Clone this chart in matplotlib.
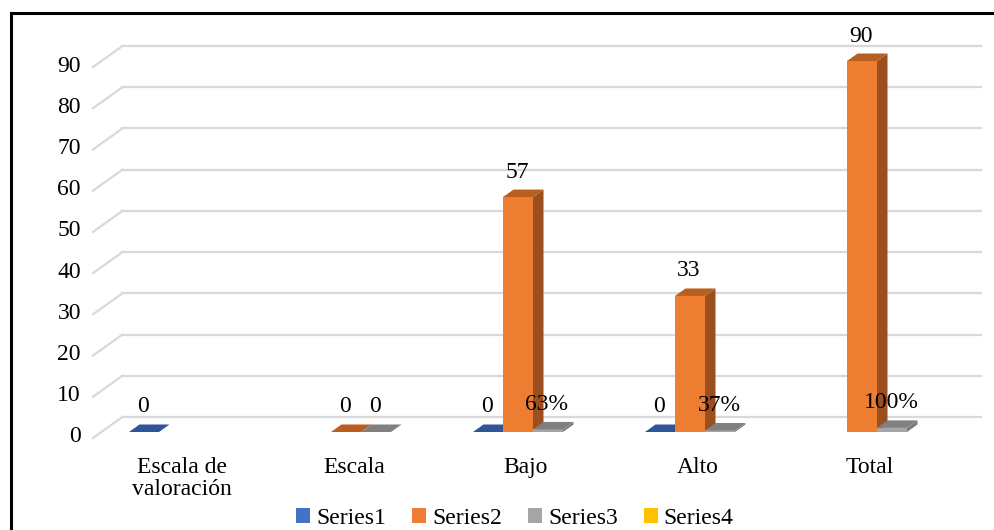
import matplotlib.pyplot as plt
from matplotlib.patches import Polygon, Rectangle
from matplotlib.lines import Line2D

plt.rcParams['font.family'] = ['Liberation Serif', 'DejaVu Serif']

categories = ['Escala de\nvaloración', 'Escala', 'Bajo', 'Alto', 'Total']
series_names = ['Series1', 'Series2', 'Series3', 'Series4']
series1 = [0, None, 0, 0, None]
series2 = [None, 0, 57, 33, 90]
series3 = [None, 0, 0.63, 0.37, 1.00]
series4 = [None, None, None, None, None]
series3_labels = [None, '0', '63%', '37%', '100%']
y_ticks = [0, 10, 20, 30, 40, 50, 60, 70, 80, 90]

# face colours: front, side, top
front_cols = ['#4472C4', '#ED7D31', '#A5A5A5', '#FFC000']
side_cols = ['#2F5597', '#9C4F1E', '#7A7A7A', '#BF9000']
top_cols = ['#2F5597', '#B85F20', '#808080', '#BF9000']

fs = 17

fig = plt.figure(figsize=(9.95, 5.30), dpi=100)
ax = fig.add_axes([0, 0, 1, 1])
ax.set_axis_off()

# one category = 172 px, one value unit = 4.122 px
px_x, px_y = 172.0, 4.122
ax.set_xlim(-174 / px_x, (995 - 174) / px_x)
ax.set_ylim(-98 / px_y, (530 - 98) / px_y)


def depth(d):
    # oblique offset (data units) for a depth of d pixels
    return 1.4 * d / px_x, d / px_y


# frame around the chart (open to the right and bottom)
fig.add_artist(Line2D([11 / 995, 11 / 995], [0, 1 - 13 / 530], color='black', lw=2.2,
                      transform=fig.transFigure))
fig.add_artist(Line2D([11 / 995, 1], [1 - 13 / 530, 1 - 13 / 530], color='black', lw=2.2,
                      transform=fig.transFigure))

# back wall gridlines and left wall
wall_front = (93 + 1.4 * 6 - 174) / px_x
wall_right = (981 - 21 - 174) / px_x
fx, fy = depth(-6)
bx, by = depth(15)
grid_c = '#D9D9D9'
for t in y_ticks:
    ax.plot([wall_front + fx, wall_front + bx], [t + fy, t + by], color=grid_c, lw=1.6, zorder=1)
    ax.plot([wall_front + bx, wall_right + bx], [t + by, t + by], color=grid_c, lw=1.6, zorder=1)
    ax.text(wall_front + fx - 12 / px_x, t + fy + 1 / px_y, str(t), ha='right', va='center',
            fontsize=fs, color='black')

# bars
w = 30 / px_x
dbx, dby = depth(7.5)
all_series = [series1, series2, series3, series4]
for i in range(len(categories)):
    for k, vals in enumerate(all_series):
        v = vals[i]
        if v is None:
            continue
        x0 = i + (k - 1) * w - w / 2
        x1 = x0 + w
        z = 3 + i * 4 + k
        if v > 0:
            ax.add_patch(Polygon([(x1, 0), (x1 + dbx, dby), (x1 + dbx, v + dby), (x1, v)],
                                 closed=True, fc=side_cols[k], ec='none', zorder=z))
            ax.add_patch(Rectangle((x0, 0), w, v, fc=front_cols[k], ec='none', zorder=z))
        ax.add_patch(Polygon([(x0, v), (x1, v), (x1 + dbx, v + dby), (x0 + dbx, v + dby)],
                             closed=True, fc=top_cols[k], ec='none', zorder=z))

        # data labels
        if k == 2:
            lab = series3_labels[i]
        else:
            lab = f'{v:g}'
        xc = i + (k - 1) * w - 1 / px_x
        ax.text(xc, v + 25 / px_y, lab, ha='center', va='center', fontsize=fs,
                color='black', zorder=50)

# category labels
for i, c in enumerate(categories):
    ax.text(i + 8 / px_x, -25 / px_y, c, ha='center', va='top', fontsize=fs,
            linespacing=1.05, color='black')

# legend
handles = [Rectangle((0, 0), 1, 1, fc=col, ec='none') for col in front_cols]
fig.legend(handles, series_names, loc='center', bbox_to_anchor=(515 / 995, 1 - 518 / 530),
           ncol=4, frameon=False, fontsize=fs, handlelength=0.6, handleheight=0.6,
           handletextpad=0.25, columnspacing=1.1, borderpad=0)

fig.savefig('out.png', dpi=100)
